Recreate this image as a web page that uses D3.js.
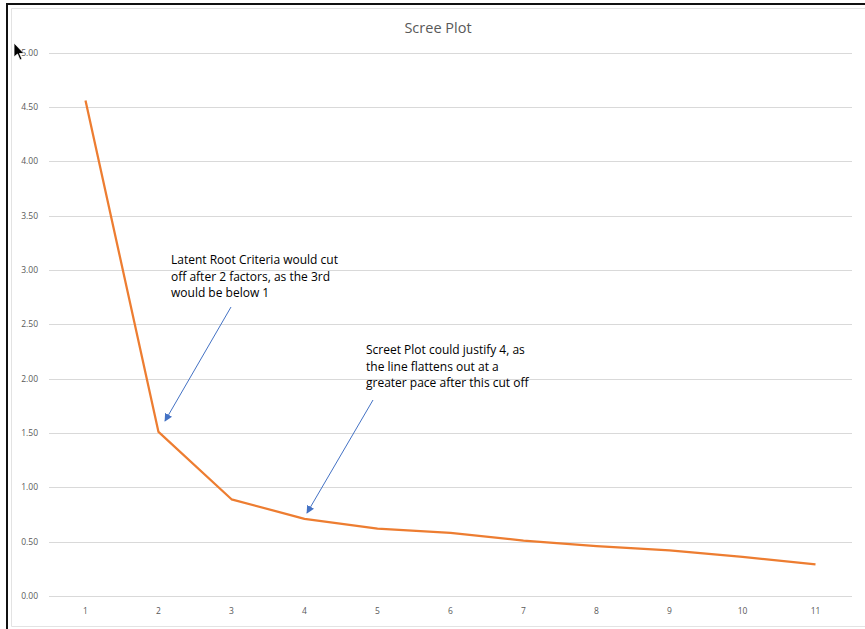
<!DOCTYPE html>
<html>
<head>
<meta charset="utf-8">
<script src="https://cdn.jsdelivr.net/npm/d3@7"></script>
<style>
  html, body { margin: 0; padding: 0; background: #fff; }
  svg { display: block; }
</style>
</head>
<body>
<svg id="chart" width="865" height="629"></svg>
<script>
const categories = [1, 2, 3, 4, 5, 6, 7, 8, 9, 10, 11];
const eigenvalues = [4.56, 1.51, 0.89, 0.71, 0.62, 0.58, 0.51, 0.46, 0.42, 0.36, 0.29];
const yTicks = [0, 0.5, 1, 1.5, 2, 2.5, 3, 3.5, 4, 4.5, 5];
const title = "Scree Plot";
const note1Lines = ["Latent Root Criteria would cut", "off after 2 factors, as the 3rd", "would be below 1"];
const note2Lines = ["Screet Plot could justify 4, as", "the line flattens out at a", "greater pace after this cut off"];

const svg = d3.select("#chart");
const W = 865, H = 629;

// outer frame (screenshot border)
svg.append("rect").attr("x", 0).attr("y", 0).attr("width", W).attr("height", H).attr("fill", "#fff");
svg.append("line").attr("x1", 6).attr("x2", W).attr("y1", 4).attr("y2", 4).attr("stroke", "#111").attr("stroke-width", 2);
svg.append("line").attr("x1", 7).attr("x2", 7).attr("y1", 3).attr("y2", H).attr("stroke", "#111").attr("stroke-width", 2);
// inner chart border (light)
svg.append("path").attr("d", `M${W},8.5 H11.5 V626.5 H${W}`).attr("fill", "none").attr("stroke", "#e3e3e3").attr("stroke-width", 1);

const x = d3.scalePoint().domain(categories).range([49, 852]).padding(0.5);
const y = d3.scaleLinear().domain([0, 5]).range([596, 52.7]);

// gridlines
svg.append("g").selectAll("line").data(yTicks).join("line")
  .attr("x1", 49).attr("x2", 852)
  .attr("y1", d => Math.round(y(d)) + 0.5).attr("y2", d => Math.round(y(d)) + 0.5)
  .attr("stroke", "#d9d9d9").attr("stroke-width", 1);

// y tick labels
svg.append("g").selectAll("text").data(yTicks).join("text")
  .attr("x", 38).attr("y", d => y(d)).attr("dy", "0.35em")
  .attr("text-anchor", "end")
  .attr("font-family", "Open Sans, sans-serif").attr("font-size", 8.5).attr("fill", "#595959")
  .text(d3.format(".2f"));

// x tick labels
svg.append("g").selectAll("text").data(categories).join("text")
  .attr("x", d => x(d)).attr("y", 611).attr("dy", "0.35em")
  .attr("text-anchor", "middle")
  .attr("font-family", "Open Sans, sans-serif").attr("font-size", 8.5).attr("fill", "#595959")
  .text(d => d);

// title
svg.append("text").attr("x", 438).attr("y", 28).attr("dy", "0.35em")
  .attr("text-anchor", "middle")
  .attr("font-family", "Open Sans, sans-serif").attr("font-size", 14.5).attr("fill", "#595959")
  .text(title);

// line
const line = d3.line().x((d, i) => x(categories[i])).y(d => y(d));
svg.append("path").datum(eigenvalues)
  .attr("d", line).attr("fill", "none")
  .attr("stroke", "#ED7D31").attr("stroke-width", 2.25).attr("stroke-linejoin", "round");

// annotations
function note(lines, x0, y0, step, size) {
  svg.append("g").selectAll("text").data(lines).join("text")
    .attr("x", x0).attr("y", (d, i) => y0 + i * step).attr("dy", "0.35em")
    .attr("font-family", "Open Sans, sans-serif").attr("font-size", size).attr("fill", "#000")
    .text(d => d);
}
note(note1Lines, 171, 260, 16.5, 12);
note(note2Lines, 366, 350, 16.5, 12);

// arrows
const defs = svg.append("defs");
defs.append("marker").attr("id", "ah").attr("viewBox", "0 0 10 10")
  .attr("refX", 9).attr("refY", 5).attr("markerWidth", 8).attr("markerHeight", 8)
  .attr("markerUnits", "userSpaceOnUse").attr("orient", "auto")
  .append("path").attr("d", "M0,0 L10,5 L0,10 Z").attr("fill", "#4472C4");

function arrow(x1, y1, x2, y2) {
  svg.append("line").attr("x1", x1).attr("y1", y1).attr("x2", x2).attr("y2", y2)
    .attr("stroke", "#4472C4").attr("stroke-width", 1).attr("marker-end", "url(#ah)");
}
arrow(231, 307, 165, 421);
arrow(373, 400, 307, 513);

// mouse cursor
svg.append("path")
  .attr("d", "M14,43 L14,57 L17.5,54 L20,60 L22,59 L19.5,53.5 L24,53.5 Z")
  .attr("fill", "#000").attr("stroke", "#fff").attr("stroke-width", 0.8);
</script>
</body>
</html>
